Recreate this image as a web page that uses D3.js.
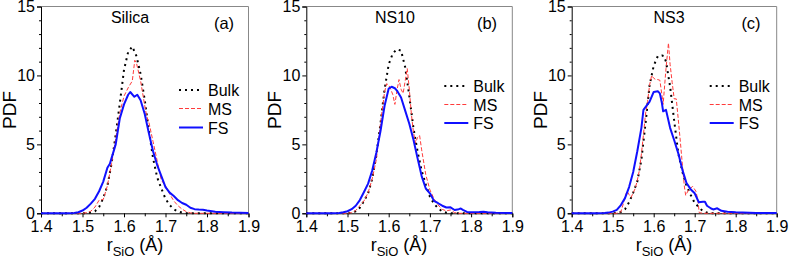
<!DOCTYPE html>
<html><head><meta charset="utf-8">
<script src="https://cdn.jsdelivr.net/npm/d3@7"></script>
<style>body{margin:0;background:#fff}svg{display:block;font-family:"Liberation Sans",Arial,sans-serif}</style>
</head><body><svg id="c" width="789" height="261"></svg>
<script>
// ---- data ----
const panelNames = ["Silica", "NS10", "NS3"];
const panelTags = ["(a)", "(b)", "(c)"];
const seriesNames = ["Bulk", "MS", "FS"];
const xTicks = [1.4, 1.5, 1.6, 1.7, 1.8, 1.9];
const yTicks = [0, 5, 10, 15];

const silicaBulk = [[1.40,0],[1.50,0],[1.51,0.02],[1.52,0.06],[1.53,0.15],[1.54,0.45],[1.55,1.1],[1.56,2.0],[1.57,3.6],[1.58,5.7],[1.59,8.0],[1.60,10.4],[1.61,11.7],[1.62,12.1],[1.63,11.4],[1.64,10.1],[1.65,8.2],[1.66,6.0],[1.67,4.0],[1.68,2.6],[1.69,1.8],[1.70,1.05],[1.71,0.6],[1.72,0.3],[1.73,0.13],[1.74,0.05],[1.75,0.02],[1.76,0],[1.90,0]];
const silicaMS = [[1.40,0],[1.50,0],[1.51,0.05],[1.52,0.15],[1.53,0.45],[1.54,0.95],[1.55,1.0],[1.56,2.0],[1.57,3.6],[1.58,5.4],[1.59,7.3],[1.60,8.5],[1.61,9.1],[1.62,9.6],[1.626,11.1],[1.63,10.9],[1.64,9.6],[1.65,7.8],[1.655,7.0],[1.66,6.6],[1.67,5.2],[1.68,3.8],[1.69,2.4],[1.70,2.0],[1.71,1.4],[1.72,0.9],[1.73,0.55],[1.74,0.3],[1.75,0.12],[1.76,0.03],[1.77,0],[1.90,0]];
const silicaFS = [[1.40,0],[1.46,0],[1.48,0.03],[1.49,0.08],[1.50,0.2],[1.51,0.4],[1.52,0.7],[1.53,1.05],[1.54,1.6],[1.55,2.3],[1.56,3.3],[1.566,3.6],[1.57,4.0],[1.58,5.0],[1.59,6.9],[1.60,7.9],[1.61,8.6],[1.615,8.8],[1.625,8.45],[1.632,8.6],[1.64,8.2],[1.65,7.2],[1.66,5.8],[1.67,4.5],[1.68,3.5],[1.69,2.7],[1.70,1.9],[1.71,1.5],[1.72,1.25],[1.73,0.95],[1.74,0.75],[1.75,0.62],[1.76,0.4],[1.77,0.3],[1.78,0.27],[1.79,0.25],[1.80,0.2],[1.82,0.12],[1.84,0.08],[1.86,0.05],[1.90,0.03]];

const ns10Bulk = [[1.40,0],[1.50,0],[1.51,0.03],[1.52,0.15],[1.53,0.4],[1.54,0.9],[1.55,1.45],[1.56,2.5],[1.57,4.2],[1.58,6.5],[1.59,9.0],[1.60,10.8],[1.61,11.6],[1.62,11.9],[1.63,11.8],[1.64,10.6],[1.65,8.5],[1.66,6.2],[1.67,4.5],[1.68,3.1],[1.69,2.1],[1.70,1.2],[1.71,0.7],[1.72,0.36],[1.73,0.13],[1.74,0.04],[1.75,0],[1.90,0]];
const ns10MS = [[1.40,0],[1.50,0],[1.51,0.05],[1.52,0.2],[1.53,0.55],[1.54,0.9],[1.55,1.5],[1.56,2.5],[1.57,3.9],[1.58,6.5],[1.59,8.8],[1.595,9.4],[1.60,9.3],[1.605,9.0],[1.61,8.6],[1.615,7.9],[1.62,8.9],[1.625,9.7],[1.63,9.0],[1.635,8.7],[1.64,9.6],[1.645,10.5],[1.65,9.0],[1.655,7.2],[1.66,5.9],[1.665,5.1],[1.67,5.5],[1.675,5.65],[1.68,4.6],[1.69,2.8],[1.70,1.7],[1.71,1.05],[1.72,0.6],[1.73,0.28],[1.74,0.18],[1.75,0.24],[1.76,0.05],[1.77,0],[1.90,0]];
const ns10FS = [[1.40,0],[1.46,0],[1.48,0.03],[1.49,0.07],[1.50,0.15],[1.51,0.3],[1.52,0.55],[1.53,0.96],[1.54,1.55],[1.55,2.15],[1.56,3.1],[1.57,4.4],[1.58,5.95],[1.59,7.8],[1.60,9.05],[1.607,9.18],[1.615,9.07],[1.62,8.9],[1.63,8.4],[1.64,7.45],[1.65,6.5],[1.66,5.35],[1.67,4.0],[1.68,2.7],[1.69,1.8],[1.70,1.45],[1.71,0.9],[1.72,0.73],[1.73,0.55],[1.74,0.42],[1.75,0.43],[1.76,0.24],[1.77,0.3],[1.775,0.35],[1.78,0.25],[1.79,0.1],[1.80,0.08],[1.82,0.1],[1.83,0.12],[1.84,0.08],[1.86,0.04],[1.90,0.02]];

const ns3Bulk = [[1.40,0],[1.50,0],[1.51,0.02],[1.52,0.1],[1.53,0.3],[1.54,0.8],[1.55,1.5],[1.56,2.3],[1.57,3.9],[1.58,6.5],[1.59,9.3],[1.60,10.7],[1.61,11.4],[1.62,11.45],[1.625,11.4],[1.63,11.0],[1.64,9.2],[1.65,6.7],[1.66,4.35],[1.67,3.0],[1.68,2.0],[1.69,1.35],[1.70,0.75],[1.71,0.45],[1.72,0.15],[1.73,0.05],[1.74,0],[1.90,0]];
const ns3MS = [[1.40,0],[1.51,0],[1.52,0.1],[1.525,0.6],[1.53,1.2],[1.535,1.6],[1.54,1.35],[1.545,1.15],[1.55,1.5],[1.555,1.8],[1.56,2.4],[1.565,3.1],[1.57,4.3],[1.575,5.7],[1.58,7.2],[1.585,8.1],[1.59,9.3],[1.595,10.0],[1.60,9.8],[1.605,9.7],[1.61,9.7],[1.615,9.65],[1.62,8.6],[1.623,7.9],[1.63,10.5],[1.636,12.35],[1.64,10.8],[1.645,9.5],[1.65,8.3],[1.655,8.3],[1.66,6.8],[1.665,5.2],[1.67,3.5],[1.675,1.9],[1.678,1.3],[1.685,1.7],[1.695,1.95],[1.703,1.6],[1.708,0.9],[1.711,0.05],[1.72,0],[1.90,0]];
const ns3FS = [[1.40,0],[1.46,0],[1.48,0.02],[1.49,0.05],[1.50,0.12],[1.51,0.25],[1.52,0.6],[1.53,1.1],[1.54,1.9],[1.55,3.0],[1.56,4.5],[1.57,6.2],[1.575,7.5],[1.58,7.7],[1.59,8.1],[1.60,8.8],[1.61,8.85],[1.615,8.7],[1.62,8.0],[1.623,7.4],[1.63,7.5],[1.64,6.2],[1.65,5.3],[1.66,4.35],[1.67,3.15],[1.68,2.2],[1.69,1.75],[1.70,1.45],[1.71,0.8],[1.72,0.84],[1.725,0.84],[1.73,0.55],[1.74,0.35],[1.745,0.28],[1.755,0.36],[1.765,0.18],[1.78,0.12],[1.80,0.08],[1.85,0.03],[1.90,0.02]];

const panelData = [[silicaBulk, silicaMS, silicaFS],[ns10Bulk, ns10MS, ns10FS],[ns3Bulk, ns3MS, ns3FS]];

// ---- layout / styles ----
const frames = [{l:41,r:248.5},{l:306.3,r:512.3},{l:571.7,r:776.7}];
const plotTop = 6.5, plotBottom = 213.3;
const titleX = [130, 395, 669];
const tagX = [224, 487, 751];
const xlabX = [135, 399, 664];
const legY = [[90,108.5,127.5],[86,104.5,123],[86,104.5,123]];
const styles = [
  {stroke:"#000", width:2, dash:"2,4"},
  {stroke:"#ff3b3b", width:1, dash:"4,2"},
  {stroke:"#1010ff", width:2, dash:null}
];
const FONT = "Liberation Sans, Arial, sans-serif";

const svg = d3.select("#c");

frames.forEach((f, i) => {
  const x = d3.scaleLinear().domain([1.4, 1.9]).range([f.l, f.r]);
  const y = d3.scaleLinear().domain([0, 15]).range([plotBottom, plotTop]);
  const g = svg.append("g").attr("font-family", FONT);

  g.append("line").attr("x1", f.l).attr("x2", f.r).attr("y1", plotTop).attr("y2", plotTop).attr("stroke", "#888").attr("stroke-width", 1);
  g.append("line").attr("x1", f.r).attr("x2", f.r).attr("y1", plotTop).attr("y2", plotBottom).attr("stroke", "#888").attr("stroke-width", 1);

  const xa = g.append("g").attr("transform", `translate(0,${plotBottom})`)
    .call(d3.axisBottom(x).tickValues(xTicks).tickFormat(d3.format(".1f")).tickSize(4).tickPadding(3));
  xa.append("g").call(d3.axisBottom(x).tickValues(d3.range(1.45, 1.9, 0.1)).tickFormat("").tickSize(3)).select(".domain").remove();
  const ya = g.append("g").attr("transform", `translate(${f.l},0)`)
    .call(d3.axisLeft(y).tickValues(yTicks).tickSize(4).tickPadding(2));
  ya.append("g").call(d3.axisLeft(y).tickValues(d3.range(0, 16, 1).filter(v => v % 5 !== 0)).tickFormat("").tickSize(2)).select(".domain").remove();
  [xa, ya].forEach(a => {
    a.attr("font-family", FONT);
    a.selectAll("g").attr("font-family", FONT);
    a.selectAll("text").attr("font-size", 16).attr("fill", "#000");
    a.selectAll("path.domain").attr("stroke", "#000");
    a.selectAll("line").attr("stroke", "#000");
  });

  const line = d3.line().x(d => x(d[0])).y(d => y(d[1]));
  panelData[i].forEach((s, k) => {
    const st = styles[k];
    g.append("path").datum(s).attr("d", line).attr("fill", "none")
      .attr("stroke", st.stroke).attr("stroke-width", st.width)
      .attr("stroke-dasharray", st.dash).attr("stroke-linejoin", "round");
  });

  seriesNames.forEach((n, k) => {
    const st = styles[k];
    const ly = legY[i][k];
    g.append("line").attr("x1", f.l + 138).attr("x2", f.l + 162).attr("y1", ly).attr("y2", ly)
      .attr("stroke", st.stroke).attr("stroke-width", st.width).attr("stroke-dasharray", st.dash);
    g.append("text").attr("x", f.l + 167).attr("y", ly + 6).attr("font-size", 16).text(n);
  });

  g.append("text").attr("x", titleX[i]).attr("y", 23).attr("text-anchor", "middle").attr("font-size", 16).text(panelNames[i]);
  g.append("text").attr("x", tagX[i]).attr("y", 29).attr("text-anchor", "middle").attr("font-size", 16.5).text(panelTags[i]);

  g.append("text").attr("transform", `translate(${f.l - 25},${(plotTop + plotBottom) / 2}) rotate(-90)`)
    .attr("text-anchor", "middle").attr("font-size", 19).text("PDF");

  const xl = g.append("text").attr("x", xlabX[i]).attr("y", 251).attr("text-anchor", "middle").attr("font-size", 18);
  xl.append("tspan").text("r");
  xl.append("tspan").attr("font-size", 13).attr("dy", 5).text("SiO");
  xl.append("tspan").attr("dy", -5).text(" (Å)");
});
</script></body></html>
